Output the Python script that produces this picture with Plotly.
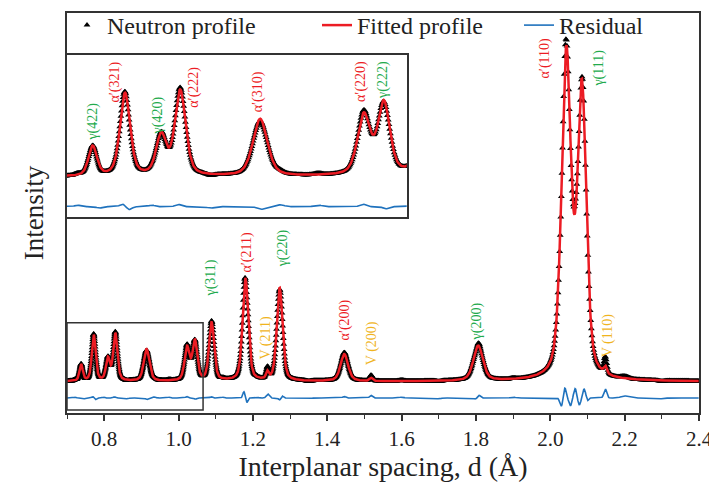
import numpy as np
import plotly.graph_objects as go

# ---------------- data ----------------
# diffraction peaks: d-spacing (Å), net height (counts), FWHM (Å)
peak_d = [0.738, 0.772, 0.810, 0.830, 0.914, 1.023, 1.044, 1.089, 1.180,
          1.239, 1.272, 1.446, 1.518, 1.806, 2.043, 2.085, 2.148]
peak_h = [165, 460, 220, 472, 318, 330, 395, 580, 1020,
          70, 930, 270, 30, 350, 3230, 2860, 70]
peak_w = [0.0105, 0.0125, 0.0125, 0.0135, 0.018, 0.016, 0.015, 0.016, 0.018,
          0.008, 0.018, 0.024, 0.010, 0.030, 0.030, 0.028, 0.010]
background = 165

# residual features: d-spacing (Å), signed amplitude (counts), width (Å)
res_d = [0.722, 0.745, 0.770, 0.776, 0.800, 0.828, 0.862, 0.915, 0.935, 0.975,
         1.022, 1.046, 1.088, 1.120, 1.176, 1.183, 1.210, 1.240, 1.272, 1.279,
         1.350, 1.446, 1.518, 1.600, 1.700, 1.800, 1.808, 1.900,
         2.030, 2.039, 2.054, 2.067, 2.078, 2.091, 2.100, 2.148, 2.200, 2.300]
res_a = [8, -8, 15, -18, 8, 12, -8, -15, 10, 8,
         14, -12, 12, 8, 65, -50, 10, 40, -20, 20,
         -8, 15, 25, 8, -8, -12, 28, 8,
         -90, 105, -80, 95, -70, 90, -30, 90, 20, -8]
res_w = [0.003, 0.003, 0.003, 0.003, 0.003, 0.003, 0.004, 0.004, 0.004, 0.004,
         0.003, 0.003, 0.003, 0.004, 0.003, 0.003, 0.004, 0.004, 0.003, 0.003,
         0.006, 0.004, 0.004, 0.006, 0.006, 0.004, 0.004, 0.006,
         0.004, 0.004, 0.004, 0.004, 0.004, 0.004, 0.003, 0.004, 0.010, 0.008]

# reflection labels: text, colour group, d, intensity at label centre
main_labels = [
    ("α′(110)", "a", 1.987, 3400), ("γ(111)", "g", 2.130, 3300),
    ("γ(200)", "g", 1.804, 770), ("α′(200)", "a", 1.449, 780),
    ("V (200)", "v", 1.521, 550), ("V (110)", "v", 2.156, 630),
    ("V (211)", "v", 1.234, 600), ("γ(311)", "g", 1.086, 1200),
    ("α′(211)", "a", 1.183, 1460), ("γ(220)", "g", 1.282, 1500),
]
inset_labels = [
    ("γ(422)", "g", 0.738, 471), ("α′(321)", "a", 0.761, 693),
    ("γ(420)", "g", 0.807, 509), ("α′(222)", "a", 0.845, 664),
    ("α′(310)", "a", 0.912, 637), ("α′(220)", "a", 1.020, 693),
    ("γ(222)", "g", 1.043, 704),
]

x_ticks = [0.8, 1.0, 1.2, 1.4, 1.6, 1.8, 2.0, 2.2, 2.4]

# ---------------- profile construction ----------------
d = 0.70 * (1.00075) ** np.arange(0, 1650)
d = d[d <= 2.40]
eta = 0.45


def pv(x, c, w):
    z = (2 * (x - c) / w) ** 2
    return eta / (1 + z) + (1 - eta) * np.exp(-np.log(2) * z)


fitted = np.full_like(d, background, dtype=float)
for c, h, w in zip(peak_d, peak_h, peak_w):
    fitted += h * pv(d, c, w)

residual = np.zeros_like(d)
for c, a, w in zip(res_d, res_a, res_w):
    residual += a * np.exp(-0.5 * ((d - c) / w) ** 2)

observed = fitted + residual

RED = "rgb(236,28,36)"
BLUE = "rgb(31,114,189)"
COL = {"a": "rgb(236,28,36)", "g": "rgb(34,170,76)", "v": "rgb(240,180,30)"}
FONT = "Liberation Serif, Times New Roman, serif"

fig = go.Figure()
for xa, ya, show in (("x", "y", True), ("x2", "y2", False)):
    fig.add_trace(go.Scatter(x=d, y=observed, mode="markers", name="Neutron profile",
                             marker=dict(symbol="triangle-up", size=6, color="black"),
                             xaxis=xa, yaxis=ya, showlegend=show, legendwidth=205))
    fig.add_trace(go.Scatter(x=d, y=fitted, mode="lines", name="Fitted profile",
                             line=dict(color=RED, width=2.5),
                             xaxis=xa, yaxis=ya, showlegend=show, legendwidth=157))
    fig.add_trace(go.Scatter(x=d, y=residual, mode="lines", name="Residual",
                             line=dict(color=BLUE, width=1.6),
                             xaxis=xa, yaxis=ya, showlegend=show))

annotations = []
for txt, g, x, y in main_labels:
    annotations.append(dict(text=txt, x=x, y=y, xref="x", yref="y", showarrow=False,
                            textangle=-90, font=dict(family=FONT, size=14, color=COL[g])))
for txt, g, x, y in inset_labels:
    annotations.append(dict(text=txt, x=x, y=y, xref="x2", yref="y2", showarrow=False,
                            textangle=-90, font=dict(family=FONT, size=14, color=COL[g])))

# the page adds an 8 px body margin, so the figure is 8 px smaller on each axis
fig.update_layout(
    width=709, height=477,
    margin=dict(l=59, r=18, t=5, b=72, autoexpand=False),
    paper_bgcolor="white", plot_bgcolor="white",
    font=dict(family=FONT, color="#222"),
    showlegend=True,
    legend=dict(orientation="h", x=0.0, xanchor="left", y=1.025, yanchor="top",
                font=dict(family=FONT, size=24, color="#222"),
                bgcolor="rgba(0,0,0,0)", itemwidth=30),
    xaxis=dict(domain=[0, 1], range=[0.7, 2.4], tickvals=x_ticks, automargin=False,
               tickformat=".1f", ticks="outside", ticklen=6, tickwidth=1.5,
               tickcolor="#333", minor=dict(dtick=0.1, ticks="outside", ticklen=4,
                                            tickcolor="#333", tickwidth=1.2),
               showline=True, linecolor="#333", linewidth=1.5, mirror=True,
               showgrid=False, zeroline=False,
               tickfont=dict(size=21, family=FONT, color="#222"),
               title=dict(text="Interplanar spacing, d (Å)", standoff=6,
                          font=dict(size=28, family=FONT, color="#222"))),
    yaxis=dict(domain=[0, 1], range=[-150, 3850], showticklabels=False, ticks="",
               automargin=False,
               showline=True, linecolor="#333", linewidth=1.5, mirror=True,
               showgrid=False, zeroline=False,
               title=dict(text="Intensity", standoff=14,
                          font=dict(size=27, family=FONT, color="#222"))),
    xaxis2=dict(domain=[0, 0.5375], anchor="y2", range=[0.711, 1.068],
                showticklabels=False, ticks="", showgrid=False, zeroline=False,
                showline=True, linecolor="#333", linewidth=1.5, mirror=True),
    yaxis2=dict(domain=[0.49075, 0.895], anchor="x2", range=[-56, 843],
                showticklabels=False, ticks="", showgrid=False, zeroline=False,
                showline=True, linecolor="#333", linewidth=1.5, mirror=True),
    annotations=annotations,
    shapes=[dict(type="rect", xref="x", yref="y", x0=0.70, x1=1.066, y0=-120, y1=753,
                 line=dict(color="#333", width=1.5))],
)

fig.write_html("out.html")
